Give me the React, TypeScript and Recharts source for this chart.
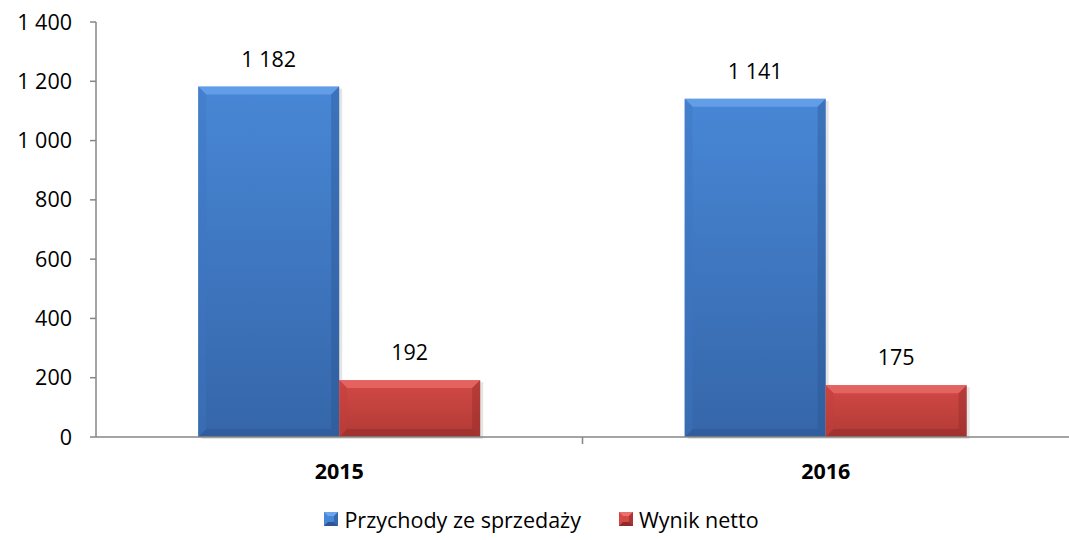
import React from "react";
import {
  BarChart,
  Bar,
  XAxis,
  YAxis,
  Legend,
  LabelList,
} from "recharts";

const years = ["2015", "2016"];
const przychody = [1182, 1141];
const wynik = [192, 175];
const yTicks = [0, 200, 400, 600, 800, 1000, 1200, 1400];

const data = years.map((year, i) => ({
  year,
  przychody: przychody[i],
  wynik: wynik[i],
}));

const FONT = "'Open Sans', sans-serif";
const FS = 21.5;

const palettes: Record<string, any> = {
  blue: { top: "#4887d6", bottom: "#3566a9", hi: "#6ea6ee", lo: "#2b5691", side: "#3e76c0" },
  red: { top: "#d24946", bottom: "#b23a36", hi: "#ec6f6c", lo: "#8e2a28", side: "#c03f3c" },
};

const fmt = (v: number) => String(v).replace(/\B(?=(\d{3})+(?!\d))/g, " ");

const BevelBar = (props: any) => {
  const { x, y, width, height, tone } = props;
  if (!height || height <= 0) return null;
  const c = palettes[tone];
  const b = Math.min(8, height / 3);
  const id = `grad-${tone}`;
  return (
    <g>
      <defs>
        <linearGradient id={id} x1="0" y1="0" x2="0" y2="1">
          <stop offset="0%" stopColor={c.top} />
          <stop offset="100%" stopColor={c.bottom} />
        </linearGradient>
      </defs>
      <rect x={x + 3} y={y + 2} width={width} height={height} fill="rgba(0,0,0,0.10)" />
      <rect x={x} y={y} width={width} height={height} fill={`url(#${id})`} />
      <polygon
        points={`${x},${y} ${x + width},${y} ${x + width - b},${y + b} ${x + b},${y + b}`}
        fill={c.hi}
        opacity={0.7}
      />
      <polygon
        points={`${x},${y + height} ${x + width},${y + height} ${x + width - b},${y + height - b} ${x + b},${y + height - b}`}
        fill={c.lo}
        opacity={0.5}
      />
      <polygon
        points={`${x},${y} ${x + b},${y + b} ${x + b},${y + height - b} ${x},${y + height}`}
        fill={c.side}
        opacity={0.4}
      />
      <polygon
        points={`${x + width},${y} ${x + width - b},${y + b} ${x + width - b},${y + height - b} ${x + width},${y + height}`}
        fill={c.lo}
        opacity={0.4}
      />
    </g>
  );
};

const XTick = (props: any) => {
  const { x, y, payload, index, width } = props;
  const band = width / years.length;
  return (
    <g>
      <text
        x={x}
        y={y + 36}
        textAnchor="middle"
        dominantBaseline="middle"
        fontFamily={FONT}
        fontSize={FS}
        fontWeight="bold"
        fill="#000"
      >
        {payload.value}
      </text>
      {index < years.length - 1 && (
        <line x1={x + band / 2} y1={y} x2={x + band / 2} y2={y + 7} stroke="#868686" strokeWidth={1.5} />
      )}
    </g>
  );
};

const LegendIcon = ({ tone }: { tone: string }) => {
  const c = palettes[tone];
  return (
    <svg width={14} height={14} style={{ marginRight: 6 }}>
      <rect x={0} y={0} width={14} height={14} fill={c.top} />
      <polygon points="0,0 14,0 10,4 4,4" fill={c.hi} />
      <polygon points="0,14 14,14 10,10 4,10" fill={c.lo} />
      <polygon points="14,0 14,14 10,10 10,4" fill={c.lo} opacity={0.6} />
    </svg>
  );
};

const LegendContent = () => (
  <div
    style={{
      display: "flex",
      justifyContent: "center",
      alignItems: "center",
      gap: 38,
      fontFamily: FONT,
      fontSize: FS,
      color: "#000",
      height: 50,
      paddingTop: 8,
      paddingLeft: 14,
      boxSizing: "border-box",
    }}
  >
    <div style={{ display: "flex", alignItems: "center" }}>
      <LegendIcon tone="blue" />
      <span>Przychody ze sprzedaży</span>
    </div>
    <div style={{ display: "flex", alignItems: "center" }}>
      <LegendIcon tone="red" />
      <span>Wynik netto</span>
    </div>
  </div>
);

export default function App() {
  return (
    <div style={{ position: "absolute", left: 0, top: 0, background: "#fff" }}>
      <BarChart
        width={1069}
        height={540}
        data={data}
        margin={{ top: 22, right: 0, left: 0, bottom: 0 }}
        barCategoryGap="21%"
        barGap={0}
      >
        <YAxis
          domain={[0, 1400]}
          ticks={yTicks}
          width={96}
          tickFormatter={fmt}
          tickSize={6}
          tickMargin={18}
          stroke="#868686"
          strokeWidth={1.5}
          tick={{ fontFamily: FONT, fontSize: FS, fill: "#000" }}
        />
        <XAxis
          dataKey="year"
          height={53}
          stroke="#868686"
          strokeWidth={1.5}
          tickLine={false}
          tickSize={0}
          tickMargin={0}
          tick={<XTick />}
        />
        <Legend verticalAlign="bottom" height={50} content={<LegendContent />} />
        <Bar dataKey="przychody" isAnimationActive={false} shape={(p: any) => <BevelBar {...p} tone="blue" />}>
          <LabelList
            dataKey="przychody"
            position="top"
            offset={20}
            formatter={fmt}
            style={{ fontFamily: FONT, fontSize: FS, fill: "#000" }}
          />
        </Bar>
        <Bar dataKey="wynik" isAnimationActive={false} shape={(p: any) => <BevelBar {...p} tone="red" />}>
          <LabelList
            dataKey="wynik"
            position="top"
            offset={20}
            formatter={fmt}
            style={{ fontFamily: FONT, fontSize: FS, fill: "#000" }}
          />
        </Bar>
      </BarChart>
    </div>
  );
}
